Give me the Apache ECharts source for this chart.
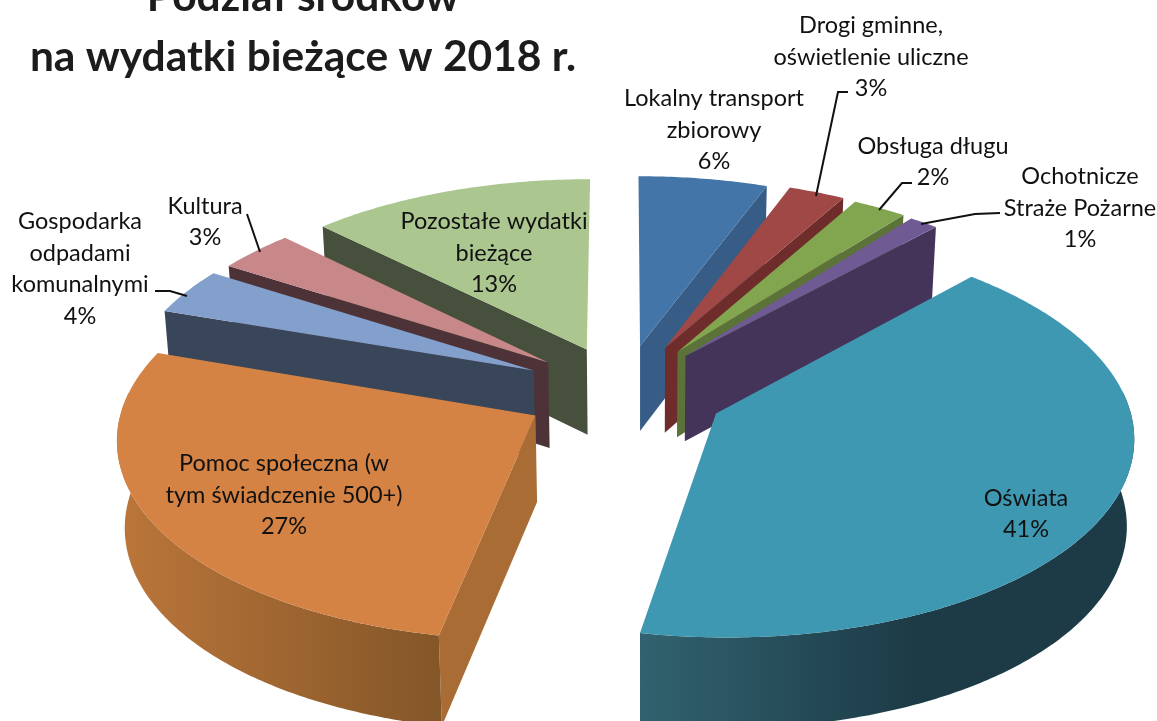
<!DOCTYPE html>
<html>
<head>
<meta charset="utf-8">
<title>Podział środków</title>
<script src="https://cdn.jsdelivr.net/npm/echarts@6/dist/echarts.min.js"></script>
<style>
html,body{margin:0;padding:0;background:#fff;}
#chart{width:1157px;height:721px;overflow:hidden;}
</style>
</head>
<body>
<div id="chart"></div>
<script>
// values, clockwise from 12 o'clock (labels show them rounded)
var categories = ['Lokalny transport\nzbiorowy', 'Drogi gminne,\noświetlenie uliczne', 'Obsługa długu', 'Ochotnicze\nStraże Pożarne', 'Oświata', 'Pomoc społeczna (w\ntym świadczenie 500+)', 'Gospodarka\nodpadami\nkomunalnymi', 'Kultura', 'Pozostałe wydatki\nbieżące'];
var shares = [5.7, 2.5, 2.4, 1.3, 41.1, 27.2, 3.8, 3.4, 12.6];

var topColors = ['#4375a8', '#a04846', '#82a650', '#705a94', '#3e98b2', '#d58344', '#83a0cd', '#c88788', '#abc78f'];
var sideColors = ['#375c86', '#6e2c2b', '#5b7339', '#45345a', '#1d3b47', '#a86c34', '#394659', '#4d3338', '#46503c'];
var arcLeft = ['#375c86', '#6e2c2b', '#5b7339', '#45345a', '#32626f', '#bb763a', '#394659', '#4d3338', '#46503c'];
var arcRight = ['#375c86', '#6e2c2b', '#5b7339', '#45345a', '#1c3b47', '#835628', '#394659', '#4d3338', '#46503c'];

// how far each slice is pulled out of the pie
var explode = [98, 102, 100, 98, 103, 100, 100, 97, 96];
var labelCenters = [[714, 130], [871, 57], [933, 162], [1080, 208], [1026, 514], [284, 495], [80, 269], [205, 222], [494, 253]];
var leaders = [
	[[848, 92], [838, 92], [816, 196]],
	[[912, 183], [902, 183], [879, 210]],
	[[1000, 213], [975, 214], [921, 224]],
	[[247, 214], [260, 252]],
	[[155, 291], [170, 291], [187, 296]]
];

var cx = 623, cy = 391, R = 410, RY = 196, K = 0.103, H = 86;
var total = 0, starts = [];
shares.forEach(function(v){ starts.push(total); total += v; });

// depth order: back slices are painted first
var order = shares.map(function(v, i){
	var mid = (starts[i] + v / 2) / total * 2 * Math.PI;
	return {i: i, d: -Math.cos(mid)};
}).sort(function(a, b){ return a.d - b.d; });
var rank = [];
order.forEach(function(o, n){ rank[o.i] = n; });

function project(X, Y, low){
	var p = 1 / (1 - K * Y / R);
	var x = cx + X * p, y = cy + Y / R * RY * p;
	if(low){
		x = 640 + (x - 640) * 0.985;
		y += H * (1 + 0.05 * Y / R);
	}
	return [x, y];
}

function renderSlice(params, api){
	var i = params.dataIndex, val = api.value(0);
	var a0 = starts[i] / total * 2 * Math.PI, a1 = (starts[i] + val) / total * 2 * Math.PI;
	var mid = (a0 + a1) / 2;
	var ox = explode[i] * Math.sin(mid), oy = -explode[i] * Math.cos(mid);
	function pt(r, a, low){ return project(ox + r * Math.sin(a), oy - r * Math.cos(a), low); }

	var topPts = [pt(0, 0)], arcTop = [], arcLow = [];
	var n = Math.max(4, Math.round((a1 - a0) * 90));
	for(var s = 0; s <= n; s++){
		var a = a0 + (a1 - a0) * s / n;
		topPts.push(pt(R, a));
		if(-Math.cos(a) > -0.12){
			arcTop.push(pt(R, a));
			arcLow.unshift(pt(R, a, true));
		}
	}
	var z = rank[i] * 10 + 1;
	var children = [];
	function wall(a){
		children.push({type: 'polygon', z2: z, shape: {points: [pt(0, 0), pt(R, a), pt(R, a, true), pt(0, 0, true)]}, style: {fill: sideColors[i]}});
	}
	if(Math.sin(a0) < -0.001) wall(a0);
	if(Math.sin(a1) > 0.001) wall(a1);
	if(arcTop.length > 1){
		var pts = arcTop.concat(arcLow);
		var xs = pts.map(function(q){ return q[0]; });
		var minX = Math.min.apply(null, xs), maxX = Math.max.apply(null, xs);
		children.push({type: 'polygon', z2: z + 1, shape: {points: pts}, style: {
			fill: new echarts.graphic.LinearGradient(minX, 0, maxX, 0, [
				{offset: 0, color: arcLeft[i]},
				{offset: i == 4 ? 0.55 : 1, color: arcRight[i]},
				{offset: 1, color: arcRight[i]}
			], true)
		}});
	}
	children.push({type: 'polygon', z2: z + 2, shape: {points: topPts}, style: {fill: topColors[i]}});
	children.push({type: 'text', z2: 200, style: {
		x: labelCenters[i][0], y: labelCenters[i][1],
		text: categories[i] + '\n' + Math.round(val) + '%',
		align: 'center', verticalAlign: 'middle',
		font: '23.5px Lato', lineHeight: 31.5, fill: '#111'
	}});
	return {type: 'group', children: children};
}

var chart = echarts.init(document.getElementById('chart'));
chart.setOption({
	animation: false,
	backgroundColor: '#fff',
	title: {
		text: 'Podział środków\nna wydatki bieżące w 2018 r.',
		left: 298, top: -38, textAlign: 'center',
		textStyle: {fontFamily: 'Lato', fontWeight: 'bold', fontSize: 42.5, lineHeight: 60, color: '#1c1c1c'}
	},
	series: [{
		type: 'custom',
		coordinateSystem: 'none',
		silent: true,
		data: shares,
		renderItem: renderSlice
	}, {
		type: 'custom',
		coordinateSystem: 'none',
		silent: true,
		z: 5,
		data: leaders.map(function(l, i){ return i; }),
		renderItem: function(params){
			return {type: 'polyline', shape: {points: leaders[params.dataIndex]}, style: {stroke: '#111', lineWidth: 2, fill: null}};
		}
	}]
});
</script>
</body>
</html>
